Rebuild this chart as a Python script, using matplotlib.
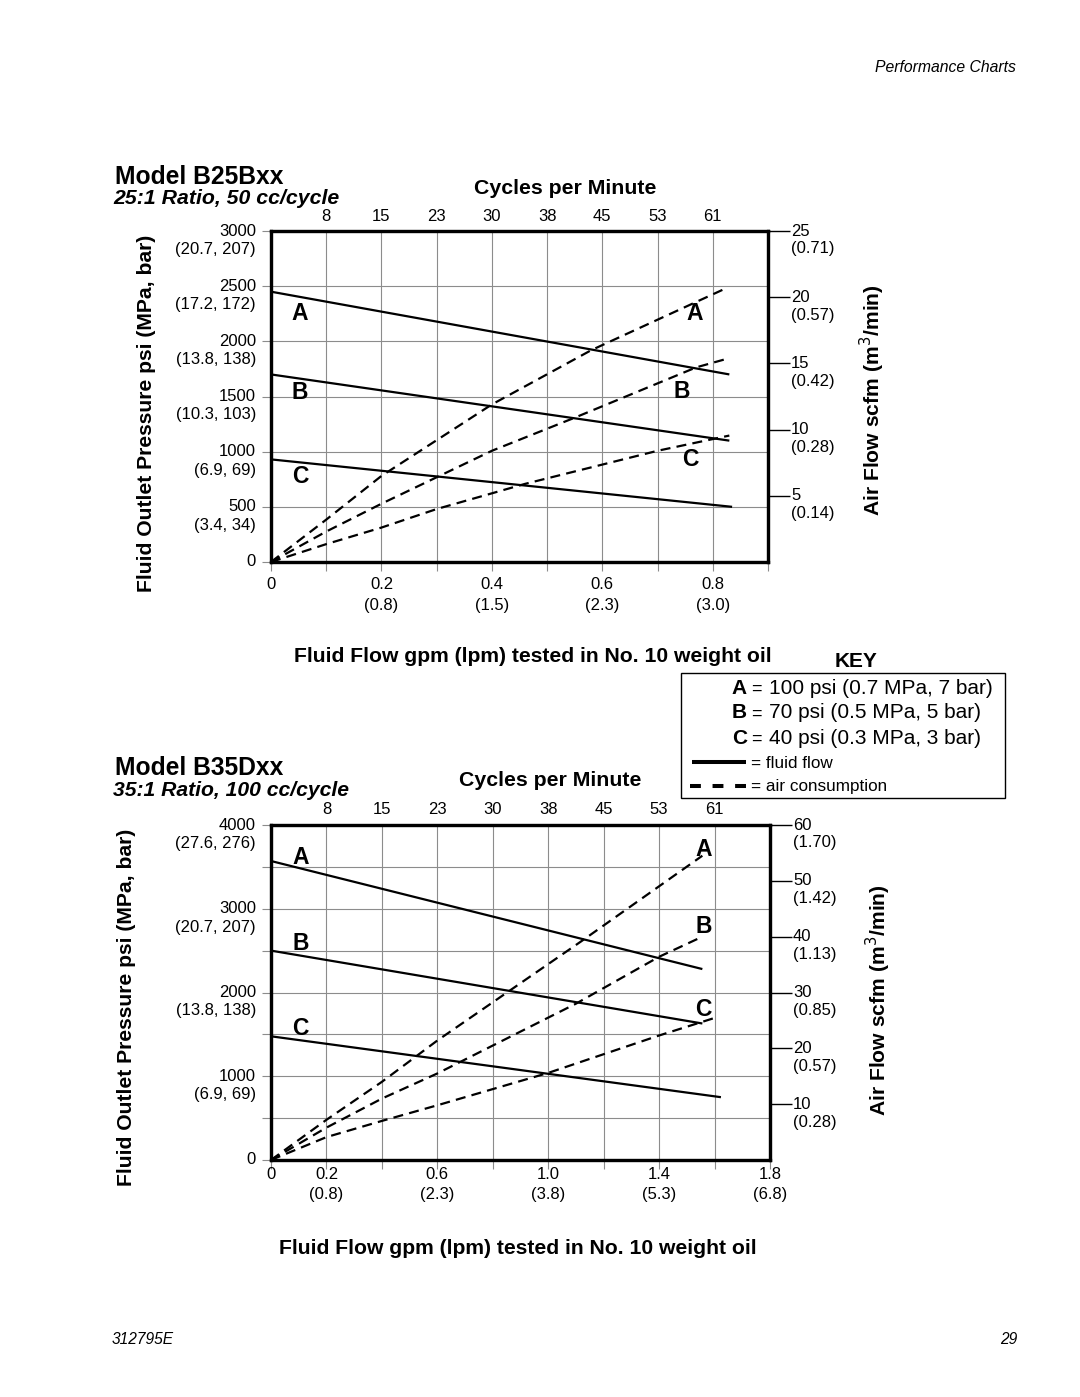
import matplotlib
matplotlib.use('Agg')
import matplotlib.pyplot as plt
from matplotlib.lines import Line2D
from matplotlib.patches import Rectangle

# ---------------- data: Model B25Bxx ----------------
c1_x_ticks = [0, 0.1, 0.2, 0.3, 0.4, 0.5, 0.6, 0.7, 0.8, 0.9]
c1_x_labels = ['0', '', '0.2\n(0.8)', '', '0.4\n(1.5)', '', '0.6\n(2.3)', '', '0.8\n(3.0)', '']
c1_top_pos = [0.1, 0.2, 0.3, 0.4, 0.5, 0.6, 0.7, 0.8]
c1_top_labels = ['8', '15', '23', '30', '38', '45', '53', '61']
c1_y_ticks = [0, 500, 1000, 1500, 2000, 2500, 3000]
c1_y_nums = ['0', '500', '1000', '1500', '2000', '2500', '3000']
c1_y_pars = ['', '(3.4, 34)', '(6.9, 69)', '(10.3, 103)', '(13.8, 138)', '(17.2, 172)', '(20.7, 207)']
c1_r_ticks = [5, 10, 15, 20, 25]
c1_r_pars = ['(0.14)', '(0.28)', '(0.42)', '(0.57)', '(0.71)']

c1_fluid_A_x = [0, 0.83]
c1_fluid_A_y = [2450, 1700]
c1_fluid_B_x = [0, 0.83]
c1_fluid_B_y = [1700, 1100]
c1_fluid_C_x = [0, 0.835]
c1_fluid_C_y = [930, 500]

c1_air_A_x = [0, 0.1, 0.2, 0.4, 0.58, 0.82]
c1_air_A_y = [0, 3.2, 6.5, 11.9, 16.0, 20.6]
c1_air_B_x = [0, 0.1, 0.2, 0.4, 0.55, 0.77, 0.83]
c1_air_B_y = [0, 2.3, 4.4, 8.4, 10.9, 14.7, 15.4]
c1_air_C_x = [0, 0.1, 0.2, 0.3, 0.46, 0.7, 0.83]
c1_air_C_y = [0, 1.35, 2.6, 4.0, 5.9, 8.4, 9.55]

# ---------------- data: Model B35Dxx ----------------
c2_x_ticks = [0, 0.2, 0.4, 0.6, 0.8, 1.0, 1.2, 1.4, 1.6, 1.8]
c2_x_labels = ['0', '0.2\n(0.8)', '', '0.6\n(2.3)', '', '1.0\n(3.8)', '', '1.4\n(5.3)', '', '1.8\n(6.8)']
c2_top_pos = [0.2, 0.4, 0.6, 0.8, 1.0, 1.2, 1.4, 1.6]
c2_top_labels = ['8', '15', '23', '30', '38', '45', '53', '61']
c2_y_ticks = [0, 500, 1000, 1500, 2000, 2500, 3000, 3500, 4000]
c2_y_nums = ['0', '', '1000', '', '2000', '', '3000', '', '4000']
c2_y_pars = ['', '', '(6.9, 69)', '', '(13.8, 138)', '', '(20.7, 207)', '', '(27.6, 276)']
c2_r_ticks = [10, 20, 30, 40, 50, 60]
c2_r_pars = ['(0.28)', '(0.57)', '(0.85)', '(1.13)', '(1.42)', '(1.70)']

c2_fluid_A_x = [0, 1.556]
c2_fluid_A_y = [3570, 2280]
c2_fluid_B_x = [0, 1.556]
c2_fluid_B_y = [2500, 1630]
c2_fluid_C_x = [0, 1.623]
c2_fluid_C_y = [1477, 750]

c2_air_A_x = [0, 0.2, 0.4, 0.6, 1.12, 1.556]
c2_air_A_y = [0, 7.2, 14.0, 21.4, 39.2, 54.5]
c2_air_B_x = [0, 0.2, 0.4, 0.6, 0.8, 1.1, 1.4, 1.556]
c2_air_B_y = [0, 5.8, 11.0, 15.5, 20.5, 28.0, 36.4, 40.0]
c2_air_C_x = [0, 0.2, 0.4, 0.6, 1.0, 1.4, 1.61]
c2_air_C_y = [0, 4.1, 7.0, 9.8, 15.6, 22.3, 25.6]

# ---------------- figure ----------------
W, H = 1080, 1397
plt.rcParams['font.family'] = ['Liberation Sans', 'DejaVu Sans']
fig = plt.figure(figsize=(W / 100, H / 100), dpi=100)


def fx(px):
    return px / W


def fy(py):
    return 1 - py / H


GRID = '#8c8c8c'
DASH = (0, (4.5, 2.8))


def chart(left, right, top, bottom, xlim, xt, xl, ylim, yt, ynums, ypars,
          tpos, tlab, rlim, rt, rpars, fluids, airs, letters, bpad, tpad):
    ax = fig.add_axes([fx(left), fy(bottom), (right - left) / W, (bottom - top) / H])
    ax.set_xlim(0, xlim)
    ax.set_ylim(0, ylim)
    ax.set_xticks(xt)
    ax.set_xticklabels(xl, fontsize=12, linespacing=1.45)
    ax.set_yticks(yt)
    ax.set_yticklabels([])
    ax.grid(True, color=GRID, lw=0.8)
    ax.set_axisbelow(True)
    ax.tick_params(axis='x', direction='out', length=6.5, width=0.8, color=GRID, pad=bpad)
    ax.tick_params(axis='y', direction='out', length=6.5, width=0.8, color=GRID)
    for s in ax.spines.values():
        s.set_linewidth(2.3)
    for v, n, p in zip(yt, ynums, ypars):
        if n:
            ax.annotate(n, xy=(0, v), xycoords=('axes fraction', 'data'), xytext=(-15, 0),
                        textcoords='offset pixels', ha='right', va='center', fontsize=12,
                        annotation_clip=False)
        if p:
            ax.annotate(p, xy=(0, v), xycoords=('axes fraction', 'data'), xytext=(-15, -18.5),
                        textcoords='offset pixels', ha='right', va='center', fontsize=12,
                        annotation_clip=False)
    sec = ax.secondary_xaxis('top')
    sec.set_xticks(tpos)
    sec.set_xticklabels(tlab, fontsize=12)
    sec.tick_params(length=0, pad=tpad)
    sec.spines['top'].set_visible(False)

    for x, y in fluids:
        ax.plot(x, y, color='black', lw=1.6, solid_capstyle='butt', zorder=3)

    ax2 = ax.twinx()
    ax2.set_ylim(0, rlim)
    ax2.set_yticks(rt)
    ax2.set_yticklabels([])
    ax2.tick_params(axis='y', direction='out', length=16, width=1.0, color='black')
    for s in ax2.spines.values():
        s.set_linewidth(2.3)
    for v, p in zip(rt, rpars):
        ax2.annotate(str(v), xy=(1, v), xycoords=('axes fraction', 'data'), xytext=(23, 0),
                     textcoords='offset pixels', ha='left', va='center', fontsize=12,
                     annotation_clip=False)
        ax2.annotate(p, xy=(1, v), xycoords=('axes fraction', 'data'), xytext=(23, -18),
                     textcoords='offset pixels', ha='left', va='center', fontsize=12,
                     annotation_clip=False)
    for x, y in airs:
        ax2.plot(x, y, color='black', lw=1.6, ls=DASH, zorder=3)

    for t, (lx, ly) in letters:
        ax.text(lx, ly, t, transform=ax.transAxes, ha='center', va='center',
                fontsize=16.5, fontweight='bold')
    return ax


# Chart 1
chart(271, 768, 231, 562, 0.9, c1_x_ticks, c1_x_labels, 3000, c1_y_ticks, c1_y_nums, c1_y_pars,
      c1_top_pos, c1_top_labels, 25, c1_r_ticks, c1_r_pars,
      [(c1_fluid_A_x, c1_fluid_A_y), (c1_fluid_B_x, c1_fluid_B_y), (c1_fluid_C_x, c1_fluid_C_y)],
      [(c1_air_A_x, c1_air_A_y), (c1_air_B_x, c1_air_B_y), (c1_air_C_x, c1_air_C_y)],
      [('A', (0.058, 0.752)), ('B', (0.058, 0.511)), ('C', (0.058, 0.257)),
       ('A', (0.853, 0.752)), ('B', (0.827, 0.514)), ('C', (0.843, 0.311))],
      bpad=4.5, tpad=5)

# Chart 2
chart(271, 770, 825, 1160, 1.8, c2_x_ticks, c2_x_labels, 4000, c2_y_ticks, c2_y_nums, c2_y_pars,
      c2_top_pos, c2_top_labels, 60, c2_r_ticks, c2_r_pars,
      [(c2_fluid_A_x, c2_fluid_A_y), (c2_fluid_B_x, c2_fluid_B_y), (c2_fluid_C_x, c2_fluid_C_y)],
      [(c2_air_A_x, c2_air_A_y), (c2_air_B_x, c2_air_B_y), (c2_air_C_x, c2_air_C_y)],
      [('A', (0.059, 0.903)), ('B', (0.059, 0.646)), ('C', (0.059, 0.394)),
       ('A', (0.867, 0.928)), ('B', (0.867, 0.696)), ('C', (0.867, 0.449))],
      bpad=-1.5, tpad=6)

# ---------------- page texts ----------------
def ftxt(x, y, s, **kw):
    fig.text(fx(x), fy(y), s, **kw)


ftxt(1016, 68, 'Performance Charts', ha='right', va='center', fontsize=11.3, style='italic')
ftxt(112, 1340, '312795E', ha='left', va='center', fontsize=11.2, style='italic')
ftxt(1017, 1340, '29', ha='right', va='center', fontsize=11.2, style='italic')

ftxt(115, 177, 'Model B25Bxx', ha='left', va='center', fontsize=17.7, fontweight='bold')
ftxt(113, 198, '25:1 Ratio, 50 cc/cycle', ha='left', va='center', fontsize=15.3,
     fontweight='bold', style='italic')
ftxt(565, 189, 'Cycles per Minute', ha='center', va='center', fontsize=15.3, fontweight='bold')
ftxt(146, 413, 'Fluid Outlet Pressure psi (MPa, bar)', ha='center', va='center', rotation=90,
     fontsize=15.2, fontweight='bold')
ftxt(872, 400, 'Air Flow scfm (m$^3$/min)', ha='center', va='center', rotation=90,
     fontsize=15.2, fontweight='bold')
ftxt(533, 657, 'Fluid Flow gpm (lpm) tested in No. 10 weight oil', ha='center', va='center',
     fontsize=15.2, fontweight='bold')

ftxt(115, 768, 'Model B35Dxx', ha='left', va='center', fontsize=17.7, fontweight='bold')
ftxt(113, 790, '35:1 Ratio, 100 cc/cycle', ha='left', va='center', fontsize=15.2,
     fontweight='bold', style='italic')
ftxt(550, 781, 'Cycles per Minute', ha='center', va='center', fontsize=15.3, fontweight='bold')
ftxt(127, 1007, 'Fluid Outlet Pressure psi (MPa, bar)', ha='center', va='center', rotation=90,
     fontsize=15.2, fontweight='bold')
ftxt(878, 1000, 'Air Flow scfm (m$^3$/min)', ha='center', va='center', rotation=90,
     fontsize=15.2, fontweight='bold')
ftxt(518, 1248, 'Fluid Flow gpm (lpm) tested in No. 10 weight oil', ha='center', va='center',
     fontsize=15.2, fontweight='bold')

# ---------------- key ----------------
key_letters = ['A', 'B', 'C']
key_desc = ['100 psi (0.7 MPa, 7 bar)', '70 psi (0.5 MPa, 5 bar)', '40 psi (0.3 MPa, 3 bar)']
key_rows_y = [688, 713, 738]

ftxt(856, 662, 'KEY', ha='center', va='center', fontsize=15, fontweight='bold')
fig.patches.append(Rectangle((fx(681), fy(798)), (1005 - 681) / W, (798 - 673) / H,
                             transform=fig.transFigure, fill=False, lw=1.0, ec='black'))
for L, d, yy in zip(key_letters, key_desc, key_rows_y):
    ftxt(747, yy, L, ha='right', va='center', fontsize=15, fontweight='bold')
    ftxt(751, yy + 1, '=', ha='left', va='center', fontsize=13)
    ftxt(769, yy, d, ha='left', va='center', fontsize=15)
fig.lines.append(Line2D([fx(692), fx(746)], [fy(762), fy(762)], transform=fig.transFigure,
                        color='black', lw=2.9, solid_capstyle='butt'))
fig.lines.append(Line2D([fx(690), fx(747)], [fy(786), fy(786)], transform=fig.transFigure,
                        color='black', lw=2.9, ls=(0, (2.7, 2.9)), dash_capstyle='butt'))
ftxt(751, 763, '= fluid flow', ha='left', va='center', fontsize=12.3)
ftxt(751, 787, '= air consumption', ha='left', va='center', fontsize=12.3)

fig.savefig('out.png', dpi=100)
